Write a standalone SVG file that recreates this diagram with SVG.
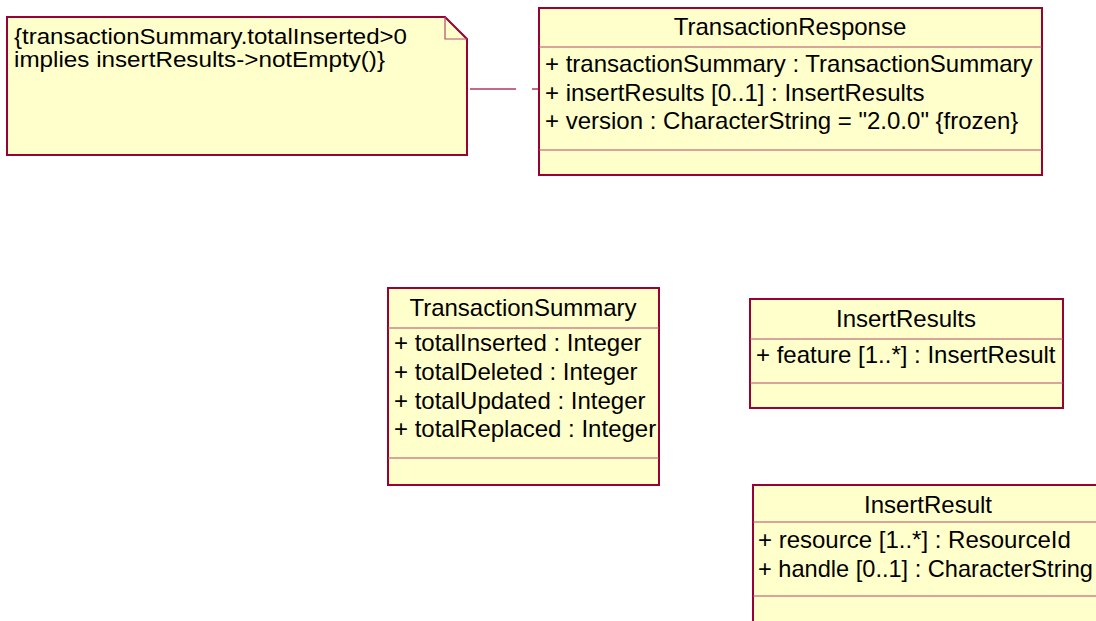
<svg xmlns="http://www.w3.org/2000/svg" width="1096" height="621" viewBox="0 0 1096 621">
<style>
.box{fill:#FFFFCC;stroke:#990033;stroke-width:2}
.sep{stroke:#B54A68;stroke-width:1.2;fill:none}
.t{font-family:"Liberation Sans",Arial,sans-serif;font-size:24px;fill:#000}
.n{font-family:"Liberation Sans",Arial,sans-serif;font-size:21.5px;fill:#000}
.c{text-anchor:middle}
.conn{stroke:#B03A5C;stroke-width:1.3;fill:none;stroke-dasharray:46 16}
</style>
<rect width="1096" height="621" fill="#FFFFFF"/>
<g id="note">
<path class="box" d="M7 17 H445 L467 39 V155 H7 Z"/>
<path class="sep" d="M445 17 V39 H467"/>
<text class="n" x="14" y="43.5" textLength="393" lengthAdjust="spacingAndGlyphs">{transactionSummary.totalInserted&gt;0</text>
<text class="n" x="14" y="66.5" textLength="371" lengthAdjust="spacingAndGlyphs">implies insertResults-&gt;notEmpty()}</text>
</g>
<g id="TransactionResponse">
<rect class="box" x="539" y="8" width="503" height="167"/>
<line class="sep" x1="539" y1="47" x2="1042" y2="47"/>
<line class="sep" x1="539" y1="150" x2="1042" y2="150"/>
<text class="t c" x="790" y="35">TransactionResponse</text>
<text class="t" x="545" y="72">+ transactionSummary : TransactionSummary</text>
<text class="t" x="545" y="100.5">+ insertResults [0..1] : InsertResults</text>
<text class="t" x="545" y="129">+ version : CharacterString = "2.0.0" {frozen}</text>
</g>
<g id="TransactionSummary">
<rect class="box" x="388" y="288" width="271" height="197"/>
<line class="sep" x1="388" y1="328" x2="659" y2="328"/>
<line class="sep" x1="388" y1="458" x2="659" y2="458"/>
<text class="t c" x="523" y="316">TransactionSummary</text>
<text class="t" x="394" y="351">+ totalInserted : Integer</text>
<text class="t" x="394" y="380">+ totalDeleted : Integer</text>
<text class="t" x="394" y="408.5">+ totalUpdated : Integer</text>
<text class="t" x="394" y="437">+ totalReplaced : Integer</text>
</g>
<g id="InsertResults">
<rect class="box" x="750" y="299" width="313" height="109"/>
<line class="sep" x1="750" y1="339" x2="1063" y2="339"/>
<line class="sep" x1="750" y1="383" x2="1063" y2="383"/>
<text class="t c" x="906" y="327">InsertResults</text>
<text class="t" x="756" y="363">+ feature [1..*] : InsertResult</text>
</g>
<g id="InsertResult">
<rect class="box" x="753" y="485" width="360" height="150"/>
<line class="sep" x1="753" y1="522" x2="1113" y2="522"/>
<line class="sep" x1="753" y1="596" x2="1113" y2="596"/>
<text class="t c" x="928" y="513">InsertResult</text>
<text class="t" x="758" y="548">+ resource [1..*] : ResourceId</text>
<text class="t" x="758" y="577" textLength="335" lengthAdjust="spacingAndGlyphs">+ handle [0..1] : CharacterString</text>
</g>
<g id="connectors">
<line class="conn" x1="470" y1="89" x2="538" y2="89"/>
</g>
</svg>
